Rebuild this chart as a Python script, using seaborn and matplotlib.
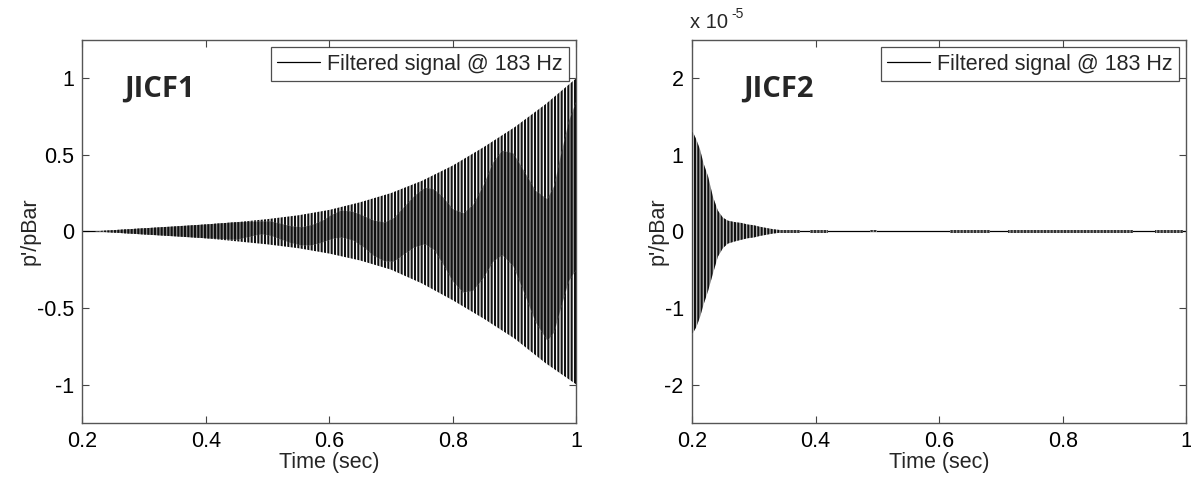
import numpy as np
import matplotlib
matplotlib.use("Agg")
import matplotlib.pyplot as plt
import seaborn as sns

# ---- data (p'/pBar envelopes of the 183 Hz filtered signal) ----
LABEL = "Filtered signal @ 183 Hz"

# JICF1 : growing oscillation
t1 = [0.20, 0.22, 0.25, 0.30, 0.35, 0.40, 0.45, 0.50, 0.55, 0.60,
      0.65, 0.70, 0.75, 0.80, 0.85, 0.90, 0.95, 1.00]
hi1 = [0.0, 0.0, 0.008, 0.02, 0.03, 0.045, 0.06, 0.08, 0.105, 0.14,
       0.19, 0.25, 0.33, 0.43, 0.55, 0.68, 0.83, 1.00]
lo1 = [0.0, 0.0, -0.008, -0.02, -0.03, -0.045, -0.065, -0.085, -0.11, -0.145,
       -0.19, -0.25, -0.34, -0.45, -0.57, -0.70, -0.86, -1.00]

# darker (overlapping strokes) band inside the JICF1 envelope
band_t = [0.22, 0.30, 0.40, 0.45, 0.49, 0.506, 0.52, 0.538, 0.555, 0.572,
          0.59, 0.605, 0.62, 0.638, 0.655, 0.672, 0.69, 0.705, 0.72, 0.738,
          0.755, 0.77, 0.785, 0.80, 0.817, 0.833, 0.85, 0.865, 0.88, 0.898,
          0.915, 0.934, 0.953, 0.964, 0.975, 0.988, 1.00]
band_hi = [0.0, 0.02, 0.045, 0.06, 0.065, 0.065, 0.051, 0.034, 0.027, 0.041,
           0.072, 0.11, 0.136, 0.129, 0.102, 0.071, 0.058, 0.088, 0.154, 0.232,
           0.285, 0.274, 0.22, 0.146, 0.118, 0.173, 0.303, 0.448, 0.527, 0.509,
           0.396, 0.265, 0.21, 0.296, 0.50, 0.722, 0.85]
band_lo = [0.0, -0.02, -0.045, -0.055, -0.019, -0.029, -0.051, -0.076, -0.092, -0.091,
           -0.072, -0.049, -0.04, -0.058, -0.102, -0.16, -0.196, -0.198, -0.154, -0.104,
           -0.084, -0.122, -0.22, -0.327, -0.40, -0.388, -0.303, -0.20, -0.155, -0.228,
           -0.396, -0.593, -0.714, -0.661, -0.50, -0.323, -0.25]

# JICF2 : decaying oscillation (units of 1e-5)
t2 = [0.200, 0.207, 0.213, 0.219, 0.226, 0.234, 0.242, 0.250, 0.258, 0.27,
      0.28, 0.29, 0.30, 0.31, 0.32, 0.33, 0.34, 0.35, 0.36, 0.37]
hi2 = [1.32, 1.20, 1.07, 0.88, 0.72, 0.45, 0.27, 0.18, 0.14, 0.12,
       0.11, 0.09, 0.08, 0.06, 0.045, 0.03, 0.02, 0.012, 0.006, 0.0]
lo2 = [-1.35, -1.25, -1.12, -0.95, -0.78, -0.55, -0.33, -0.22, -0.16, -0.13,
       -0.11, -0.09, -0.08, -0.06, -0.045, -0.03, -0.02, -0.012, -0.006, 0.0]

# small residual bursts on JICF2 after 0.34 s
burst_start = [0.342, 0.391, 0.488, 0.618, 0.712, 0.950]
burst_end = [0.375, 0.420, 0.500, 0.683, 0.914, 0.995]
burst_amp = [0.018, 0.015, 0.012, 0.015, 0.018, 0.018]

x_ticks = [0.2, 0.4, 0.6, 0.8, 1.0]
y_ticks1 = [-1, -0.5, 0, 0.5, 1]
y_ticks2 = [-2, -1, 0, 1, 2]

# ---- style ----
sns.set_style("ticks")
plt.rcParams["font.family"] = ["Liberation Sans", "DejaVu Sans"]
plt.rcParams["axes.unicode_minus"] = False
plt.rcParams["hatch.linewidth"] = 1.5
FS = 15.5
HATCH = "|" * 5


def fmt(v):
    return "%g" % v


def style_axes(ax, ylim, yticks, name, name_x):
    ax.set_xlim(0.2, 1.0)
    ax.set_ylim(*ylim)
    ax.set_xticks(x_ticks)
    ax.set_xticklabels([fmt(v) for v in x_ticks])
    ax.set_yticks(yticks)
    ax.set_yticklabels([fmt(v) for v in yticks])
    ax.tick_params(direction="in", top=True, right=True, length=5, width=0.8,
                   color="#444444", labelsize=FS, labelcolor="black", pad=6)
    for sp in ax.spines.values():
        sp.set_color("#555555")
        sp.set_linewidth(1.0)
    ax.set_xlabel("Time (sec)", fontsize=FS, labelpad=0)
    ax.set_ylabel("p'/pBar", fontsize=FS, labelpad=-3)
    ax.text(name_x, ylim[1] * 0.745, name, fontsize=21, fontweight="bold",
            family=["Open Sans", "DejaVu Sans"], va="center", ha="left")
    leg = ax.legend(loc="upper right", fontsize=FS, frameon=True, fancybox=False,
                    borderpad=0.3, handlelength=2.0, handletextpad=0.3,
                    borderaxespad=0.35)
    leg.get_frame().set_edgecolor("#222222")
    leg.get_frame().set_linewidth(0.9)


fig = plt.figure(figsize=(11.91, 4.80), dpi=100)
ax1 = fig.add_axes([0.069, 0.119, 0.415, 0.798])
ax2 = fig.add_axes([0.581, 0.119, 0.415, 0.798])

# ---- JICF1 ----
sns.lineplot(x=[t1[0], t1[-1]], y=[0, 0], ax=ax1, color="black", linewidth=0.9, label=LABEL)
ax1.fill_between(t1, lo1, hi1, facecolor="white", edgecolor="#111111",
                 hatch=HATCH, linewidth=0, zorder=3)
ax1.fill_between(band_t, band_lo, band_hi, facecolor="#909090", edgecolor="#111111",
                 hatch=HATCH, linewidth=0, zorder=3)
style_axes(ax1, (-1.25, 1.25), y_ticks1, "JICF1", 0.268)

# ---- JICF2 ----
sns.lineplot(x=[0.2, 1.0], y=[0, 0], ax=ax2, color="black", linewidth=0.9, label=LABEL)
ax2.fill_between(t2, lo2, hi2, facecolor="#bdbdbd", edgecolor="#111111",
                 hatch=HATCH, linewidth=0, zorder=3)
for s, e, a in zip(burst_start, burst_end, burst_amp):
    ax2.fill_between([s, e], [-a, -a], [a, a], facecolor="#999999",
                     edgecolor="#333333", hatch=HATCH, linewidth=0, zorder=3)
style_axes(ax2, (-2.5, 2.5), y_ticks2, "JICF2", 0.282)
fig.text(690 / 1191, 1 - 22 / 480, "x 10", fontsize=FS - 1, va="center", ha="left")
fig.text(731 / 1191, 1 - 14 / 480, "-5", fontsize=10, va="center", ha="left")

fig.savefig("out.png", dpi=100)
